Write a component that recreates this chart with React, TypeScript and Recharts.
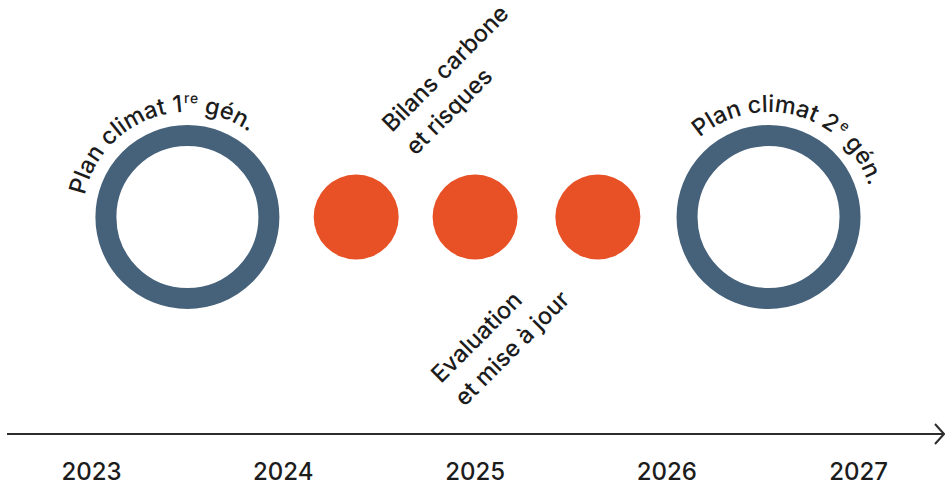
import React from 'react';
import { ScatterChart, Scatter, XAxis, YAxis, ReferenceDot } from 'recharts';

const YEARS = [2023, 2024, 2025, 2026, 2027];
const PLAN_YEARS = [2023.5, 2026.53];
const PLAN_NUMBERS = ['1', '2'];
const PLAN_SUFFIX = ['re', 'e'];
const STEP_YEARS = [2024.38, 2025.0, 2025.64];
const NOTE_TOP = ['Bilans carbone', 'et risques'];
const NOTE_BOTTOM = ['Evaluation', 'et mise à jour'];

const X_MIN = 2022.5594;
const X_MAX = 2027.4396;
const FONT = 'Inter, "Noto Sans", sans-serif';
const BLUE = '#46627B';
const ORANGE = '#E85025';
const INK = '#1c1c1c';

const planData = PLAN_YEARS.map((year, i) => ({
  year,
  level: 1,
  num: PLAN_NUMBERS[i],
  sup: PLAN_SUFFIX[i],
}));
const stepData = STEP_YEARS.map(year => ({ year, level: 1 }));

// where the label around each ring is centred (degrees, screen coords)
const ARC_MID = [249, 286];

const polar = (cx: number, cy: number, r: number, deg: number) => {
  const a = (deg * Math.PI) / 180;
  return [cx + r * Math.cos(a), cy + r * Math.sin(a)];
};

const PlanRing = (props: any) => {
  const { cx, cy, payload, index } = props;
  const mid = ARC_MID[index] ?? 270;
  const r = 105;
  const [x0, y0] = polar(cx, cy, r, mid - 88);
  const [x1, y1] = polar(cx, cy, r, mid + 88);
  const id = `plan-arc-${index}`;
  return (
    <g>
      <circle cx={cx} cy={cy} r={81.5} fill="none" stroke={BLUE} strokeWidth={21} />
      <path id={id} d={`M ${x0} ${y0} A ${r} ${r} 0 0 1 ${x1} ${y1}`} fill="none" />
      <text fontFamily={FONT} fontSize={23.5} fontWeight={500} fill={INK}>
        <textPath href={`#${id}`} startOffset="50%" textAnchor="middle">
          {`Plan climat ${payload.num}`}
          <tspan dx={1} dy={-9} fontSize={14}>
            {payload.sup}
          </tspan>
          <tspan dy={9}>{' gén.'}</tspan>
        </textPath>
      </text>
    </g>
  );
};

const Note = ({ x, y, lines }: { x: number; y: number; lines: string[] }) => (
  <text
    x={x}
    y={y}
    transform={`rotate(-45 ${x} ${y})`}
    fontFamily={FONT}
    fontSize={23.5}
    fontWeight={500}
    fill={INK}
  >
    {lines.map((line, i) => (
      <tspan key={line} x={x} dy={i === 0 ? 0 : 33}>
        {line}
      </tspan>
    ))}
  </text>
);

const StepDot = (props: any) => {
  const { cx, cy, index } = props;
  const notes =
    index === 1 ? (
      <>
        <Note x={cx - 83} y={cy - 84} lines={NOTE_TOP} />
        <Note x={cx - 34} y={cy + 167} lines={NOTE_BOTTOM} />
      </>
    ) : null;
  return (
    <g>
      <circle cx={cx} cy={cy} r={42.5} fill={ORANGE} />
      {notes}
    </g>
  );
};

const Arrow = (props: any) => {
  const { cx, cy } = props;
  return (
    <path
      d={`M ${cx - 8} ${cy - 10} L ${cx + 1} ${cy} L ${cx - 8} ${cy + 10}`}
      fill="none"
      stroke="#2d2d2d"
      strokeWidth={2}
    />
  );
};

export default function App() {
  return (
    <div style={{ position: 'absolute', left: 0, top: 0 }}>
      <ScatterChart width={945} height={488} margin={{ top: 0, right: 2, bottom: 0, left: 7 }}>
        <XAxis
          type="number"
          dataKey="year"
          domain={[X_MIN, X_MAX]}
          ticks={YEARS}
          height={54}
          tickLine={false}
          tickSize={0}
          tickMargin={29}
          axisLine={{ stroke: '#2d2d2d', strokeWidth: 2 }}
          tick={{ fontFamily: FONT, fontSize: 24, fontWeight: 500, fill: INK }}
          allowDataOverflow
        />
        <YAxis type="number" dataKey="level" domain={[0, 2]} hide />
        <Scatter data={planData} shape={<PlanRing />} isAnimationActive={false} />
        <Scatter data={stepData} shape={<StepDot />} isAnimationActive={false} />
        <ReferenceDot x={X_MAX} y={0} ifOverflow="visible" shape={<Arrow />} />
      </ScatterChart>
    </div>
  );
}
